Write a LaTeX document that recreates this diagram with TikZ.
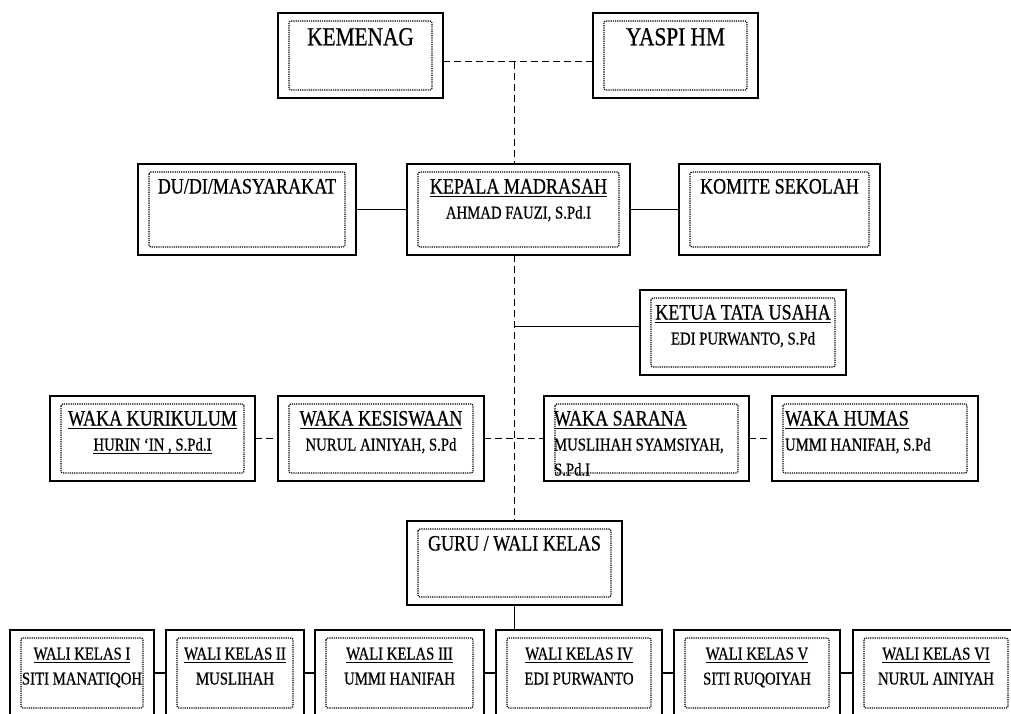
\documentclass[tikz,border=0pt]{standalone}
\usepackage{fontspec}
\setmainfont{Liberation Serif}[FakeStretch=0.82, FakeBold=0.6]
\usetikzlibrary{calc}

% ukuran huruf
\newcommand{\atas}{\fontsize{26}{29}\selectfont}
\newcommand{\besar}{\fontsize{22}{25}\selectfont}
\newcommand{\kecil}{\fontsize{18}{25}\selectfont}
% garis bawah tebal
\newcommand{\gb}[1]{\leavevmode{\setbox0\hbox{#1}\rlap{\raisebox{-3.5pt}{\rule{\wd0}{1.5pt}}}\box0}}
% isi kotak: lebar, tinggi, teks
\newcommand{\isibox}[4][\centering]{\parbox[t][#3][t]{#2}{#1\vspace*{12pt}\strut#4}}

\tikzset{
  kotak/.style={draw, line width=1.3pt, inner sep=0pt, outer sep=0pt, anchor=north west, font=\besar,
    path picture={\draw[dash pattern=on 1.2pt off 1pt, line width=1.2pt, rounded corners=2pt]
      ([shift={(11pt,-8pt)}]path picture bounding box.north west) rectangle
      ([shift={(-11pt,8pt)}]path picture bounding box.south east);}},
  putus/.style={line width=1.2pt, dash pattern=on 7pt off 4pt},
  garis/.style={line width=1.3pt},
}

\begin{document}
\begin{tikzpicture}[x=1pt, y=-1pt]

\useasboundingbox (0,0) rectangle (1011,713);

% baris atas
\node[kotak, font=\atas] (kemenag) at (278,13) {\isibox{165pt}{85pt}{KEMENAG}};
\node[kotak, font=\atas] (yaspi) at (593,13) {\isibox{165pt}{85pt}{YASPI HM}};

% kepala
\node[kotak] (dudi) at (138,164) {\isibox{218pt}{91pt}{DU/DI/MASYARAKAT}};
\node[kotak] (kepala) at (407,164) {\isibox{223pt}{91pt}{\gb{KEPALA MADRASAH}\\{\kecil AHMAD FAUZI, S.Pd.I}}};
\node[kotak] (komite) at (679,164) {\isibox{201pt}{91pt}{KOMITE SEKOLAH}};

\node[kotak] (tu) at (640,290) {\isibox{206pt}{85pt}{\gb{KETUA TATA USAHA}\\{\kecil EDI PURWANTO, S.Pd}}};

% waka
\node[kotak] (kurikulum) at (50,396) {\isibox{205pt}{85pt}{\gb{WAKA KURIKULUM}\\{\kecil\gb{HURIN ‘IN , S.Pd.I}}}};
\node[kotak] (kesiswaan) at (278,396) {\isibox{206pt}{85pt}{\gb{WAKA KESISWAAN}\\{\kecil NURUL AINIYAH, S.Pd}}};
\node[kotak] (sarana) at (544,396) {\isibox[\raggedright\leftskip=10pt]{205pt}{85pt}{\gb{WAKA SARANA}\\{\kecil MUSLIHAH SYAMSIYAH,\\S.Pd.I}}};
\node[kotak] (humas) at (772,396) {\isibox[\raggedright\leftskip=13pt]{206pt}{85pt}{\gb{WAKA HUMAS}\\{\kecil UMMI HANIFAH, S.Pd}}};

\node[kotak] (guru) at (407,521) {\isibox{215pt}{84pt}{GURU / WALI KELAS}};

% wali kelas
\node[kotak, font=\kecil] (wk1) at (10,630) {\isibox{144pt}{86pt}{\gb{WALI KELAS I}\\SITI MANATIQOH}};
\node[kotak, font=\kecil] (wk2) at (166,630) {\isibox{138pt}{86pt}{\gb{WALI KELAS II}\\MUSLIHAH}};
\node[kotak, font=\kecil] (wk3) at (315,630) {\isibox{169pt}{86pt}{\gb{WALI KELAS III}\\UMMI HANIFAH}};
\node[kotak, font=\kecil] (wk4) at (496,630) {\isibox{166pt}{86pt}{\gb{WALI KELAS IV}\\EDI PURWANTO}};
\node[kotak, font=\kecil] (wk5) at (674,630) {\isibox{166pt}{86pt}{\gb{WALI KELAS V}\\SITI RUQOIYAH}};
\node[kotak, font=\kecil] (wk6) at (853,630) {\isibox{166pt}{86pt}{\gb{WALI KELAS VI}\\NURUL AINIYAH}};

% garis
\coordinate (pusat) at ($(guru.north |- kemenag.east) + (0,6)$);
\coordinate (tukiri) at ($(tu.west) + (0,-6)$);
\draw[putus] ($(kemenag.east) + (0,6)$) -- ($(yaspi.west) + (0,6)$);
\draw[putus] (pusat) -- (kepala.north -| pusat);
\draw[putus] (kepala.south -| guru.north) -- (guru.north);
\draw[garis] (dudi.east) -- (kepala.west);
\draw[garis] (kepala.east) -- (komite.west);
\draw[garis] (tukiri -| pusat) -- (tukiri);
\draw[putus] (kurikulum.east) -- (kesiswaan.west);
\draw[putus] (kesiswaan.east) -- (sarana.west);
\draw[putus] (sarana.east) -- (humas.west);
\draw[garis] (guru.south) -- (guru.south |- wk4.north);
\foreach \a/\b in {wk1/wk2, wk2/wk3, wk3/wk4, wk4/wk5, wk5/wk6}
  \draw[garis] (\a.east) -- (\b.west);

\end{tikzpicture}
\end{document}
